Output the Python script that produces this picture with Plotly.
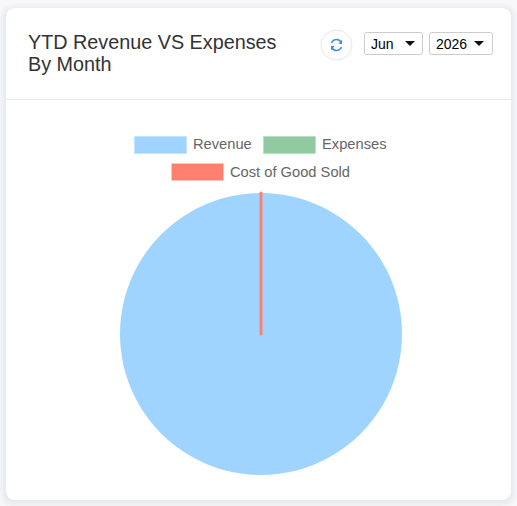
import plotly.graph_objects as go

categories = ["Revenue", "Expenses", "Cost of Good Sold"]
values = [100, 0, 0.0001]
colors = ["#9fd4ff", "#91c9a0", "#ff8071"]
months_label = "Jun"
year_label = "2026"
title_lines = ["YTD Revenue VS Expenses", "By Month"]

W, H = 517, 506
FONT = "Liberation Sans, Arial, sans-serif"
def X(p): return p / W
def Y(p): return 1 - p / H

def rrect(x0, y0, x1, y1, r):
    a, b, c, d = X(x0), Y(y0), X(x1), Y(y1)
    rx, ry = r / W, r / H
    return (f"M{a+rx},{b} L{c-rx},{b} Q{c},{b} {c},{b-ry} L{c},{d+ry} Q{c},{d} {c-rx},{d} "
            f"L{a+rx},{d} Q{a},{d} {a},{d+ry} L{a},{b-ry} Q{a},{b} {a+rx},{b} Z")

def rect(x0, y0, x1, y1, fill, line=None, lw=0):
    return dict(type="rect", xref="paper", yref="paper", x0=X(x0), x1=X(x1), y0=Y(y1), y1=Y(y0),
                fillcolor=fill, line=dict(color=line or fill, width=lw), layer="below")

def text(x, y, s, size, color, anchor="left"):
    return dict(xref="paper", yref="paper", x=X(x), y=Y(y), text=s, showarrow=False, xanchor=anchor,
                yanchor="middle", font=dict(family=FONT, size=size, color=color),
                borderpad=0, borderwidth=0)

shadow_steps = [(7, "#f5f5f8"), (6, "#f3f4f7"), (5, "#f1f2f5"), (4, "#eff0f4"),
                (3, "#edeef2"), (2, "#ebecf0"), (1, "#e9eaef")]
shapes = [
    dict(type="path", xref="paper", yref="paper", path=rrect(6 - d, 10 - d, 511 + d, 501 + d, 10 + d),
         fillcolor=c, line=dict(width=0), layer="below")
    for d, c in shadow_steps
]
shapes += [
    dict(type="path", xref="paper", yref="paper", path=rrect(6, 8, 511, 500, 10), fillcolor="white",
         line=dict(width=0), layer="below"),
    rect(6, 99, 511, 100, "#e9ecef"),
    # refresh button
    dict(type="circle", xref="paper", yref="paper", x0=X(321), x1=X(352), y0=Y(60), y1=Y(30),
         fillcolor="white", line=dict(color="#e4e7f0", width=1), layer="below"),
    dict(type="path", xref="paper", yref="paper", line=dict(color="#3f8cf0", width=1.6), layer="above",
         path=f"M{X(331.5)},{Y(43)} Q{X(333)},{Y(39.5)} {X(336.5)},{Y(39.5)} Q{X(339.5)},{Y(39.5)} {X(341.5)},{Y(42.5)}"),
    dict(type="path", xref="paper", yref="paper", line=dict(color="#3f8cf0", width=1.6), layer="above",
         path=f"M{X(341.5)},{Y(47)} Q{X(340)},{Y(50.5)} {X(336.5)},{Y(50.5)} Q{X(333.5)},{Y(50.5)} {X(331.5)},{Y(47.5)}"),
    dict(type="path", xref="paper", yref="paper", fillcolor="#3f8cf0", line=dict(width=0), layer="above",
         path=f"M{X(342)},{Y(39.5)} L{X(342)},{Y(44)} L{X(338.5)},{Y(44)} Z"),
    dict(type="path", xref="paper", yref="paper", fillcolor="#3f8cf0", line=dict(width=0), layer="above",
         path=f"M{X(331)},{Y(50.5)} L{X(331)},{Y(46)} L{X(334.5)},{Y(46)} Z"),
    # selects
    dict(type="path", xref="paper", yref="paper", path=rrect(364.5, 32.5, 422.5, 54.5, 2), fillcolor="white",
         line=dict(color="#cccccc", width=1), layer="below"),
    dict(type="path", xref="paper", yref="paper", path=rrect(429.5, 32.5, 492.5, 54.5, 2), fillcolor="white",
         line=dict(color="#cccccc", width=1), layer="below"),
    dict(type="path", xref="paper", yref="paper", fillcolor="#111111", line=dict(width=0),
         path=f"M{X(405)},{Y(41)} L{X(415)},{Y(41)} L{X(410)},{Y(46)} Z"),
    dict(type="path", xref="paper", yref="paper", fillcolor="#111111", line=dict(width=0),
         path=f"M{X(474)},{Y(41)} L{X(484)},{Y(41)} L{X(479)},{Y(46)} Z"),
    # legend swatches
    rect(134.5, 136.5, 186.5, 153.5, colors[0], "#c5e5ff", 1),
    rect(263.5, 136.5, 315.5, 153.5, colors[1], "#bddfc6", 1),
    rect(171.5, 163.5, 223.5, 180.5, colors[2], "#ffc4bd", 1),
]

annotations = [
    text(28, 42, title_lines[0], 19.8, "#333333"),
    text(28, 64, title_lines[1], 19.8, "#333333"),
    text(371, 44, months_label, 14, "#000000"),
    text(436, 44, year_label, 14, "#000000"),
    text(193, 144, categories[0], 14.7, "#666666"),
    text(322, 144, categories[1], 14.7, "#666666"),
    text(230, 172, categories[2], 14.7, "#666666"),
]

fig = go.Figure(go.Pie(
    labels=categories, values=values, sort=False, direction="clockwise", rotation=0,
    textinfo="none", hoverinfo="label+value", showlegend=False,
    marker=dict(colors=colors, line=dict(color=colors, width=[0, 0, 3])),
    domain=dict(x=[X(120), X(402)], y=[Y(475), Y(193)]),
))
fig.update_layout(
    width=W, height=H, margin=dict(l=0, r=0, t=0, b=0), autosize=False,
    paper_bgcolor="#f8f8fa", plot_bgcolor="white", showlegend=False,
    font=dict(family=FONT), shapes=shapes, annotations=annotations,
)
fig.write_html("out.html", config={"displayModeBar": False},
               post_script="document.body.style.margin='0';document.body.style.background='#f8f8fa';")
